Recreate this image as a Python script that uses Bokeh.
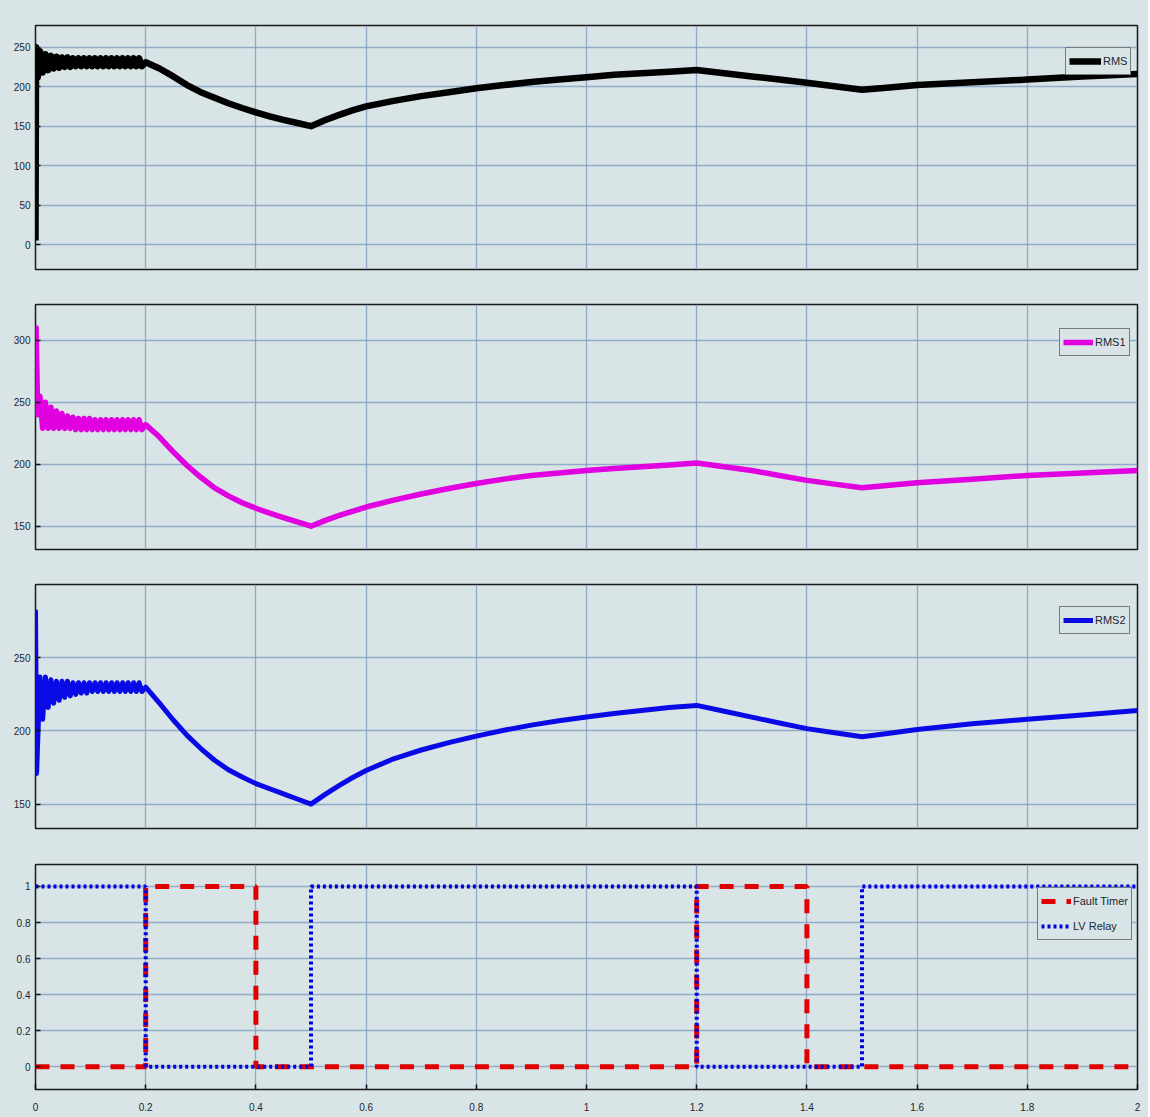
from bokeh.plotting import figure
from bokeh.models import Range1d, FixedTicker, Legend, LegendItem
from bokeh.layouts import column
from bokeh.embed import file_html
from bokeh.resources import INLINE

# ---------------- data ----------------
X_TICKS = [0, 0.2, 0.4, 0.6, 0.8, 1.0, 1.2, 1.4, 1.6, 1.8, 2.0]
X_LABELS = ["0", "0.2", "0.4", "0.6", "0.8", "1", "1.2", "1.4", "1.6", "1.8", "2"]

Y1_TICKS = [0, 50, 100, 150, 200, 250]
Y2_TICKS = [150, 200, 250, 300]
Y3_TICKS = [150, 200, 250]
Y4_TICKS = [0, 0.2, 0.4, 0.6, 0.8, 1.0]
Y4_LABELS = ["0", "0.2", "0.4", "0.6", "0.8", "1"]

# shared time grids
T_RIPPLE = [0.008, 0.013, 0.018, 0.023, 0.028, 0.033, 0.038, 0.043, 0.048, 0.053,
            0.058, 0.063, 0.068, 0.073, 0.078, 0.083, 0.088, 0.093, 0.098, 0.103,
            0.108, 0.113, 0.118, 0.123, 0.128, 0.133, 0.138, 0.143, 0.148, 0.153,
            0.158, 0.163, 0.168, 0.173, 0.178, 0.183, 0.188, 0.193]
T_MAIN = [0.2, 0.225, 0.25, 0.275, 0.3, 0.325, 0.35, 0.375, 0.4, 0.425, 0.45, 0.475,
          0.5, 0.525, 0.55, 0.575, 0.6,
          0.65, 0.7, 0.75, 0.8, 0.85, 0.9, 0.95, 1.0, 1.05, 1.1, 1.15, 1.2, 1.25,
          1.3, 1.35, 1.4, 1.45, 1.5, 1.55, 1.6,
          1.7, 1.8, 1.9, 2.0]

# RMS (black)
RMS_T_START = [0.0, 0.001, 0.004]
RMS_V_START = [5, 250, 212]
RMS_V_RIPPLE = [245, 218, 241, 221, 239, 223, 238, 224, 237, 225,
                237, 225, 236, 226, 236, 226, 236, 226, 236, 226,
                236, 226, 236, 226, 236, 226, 236, 226, 236, 226,
                236, 226, 236, 226, 236, 226, 236, 226]
RMS_V_MAIN = [231, 223, 213, 202, 193, 186, 179, 173, 167.5, 162.5, 158, 154,
              150, 157.5, 164, 170, 175,
              182, 188, 193, 198, 202, 206, 209, 212, 215, 217, 219, 221, 217,
              213, 209, 205, 200.5, 196, 199, 202,
              205.5, 209, 213, 216]

# RMS1 (magenta)
RMS1_T_START = [0.0, 0.001, 0.004]
RMS1_V_START = [300, 310, 240]
RMS1_V_RIPPLE = [255, 229, 250, 229, 246, 229, 243, 229, 241, 229,
                 239, 229, 238, 228, 237, 228, 237, 228, 237, 228,
                 236, 228, 236, 228, 236, 228, 236, 228, 236, 228,
                 236, 228, 236, 228, 236, 228, 236, 228]
RMS1_V_MAIN = [232, 222, 210, 199, 189.5, 181, 174.5, 169, 164.5, 160.5, 157, 153.5,
               150, 154.5, 158.5, 162, 165.5,
               171, 176, 180.5, 184.5, 188, 191, 193, 195, 196.5, 198, 199.5, 201, 198,
               195, 191, 187, 184, 181, 183, 185,
               188, 191, 193, 195]

# RMS2 (blue)
RMS2_T_START = [0.0, 0.002]
RMS2_V_START = [283, 171]
RMS2_V_RIPPLE = [237, 208, 237, 216, 235, 219, 234, 221, 234, 223,
                 234, 224, 233, 225, 233, 226, 233, 226, 233, 227,
                 233, 227, 233, 227, 233, 227, 233, 227, 233, 227,
                 233, 227, 233, 227, 233, 227, 233, 227]
RMS2_V_MAIN = [230, 219, 207.5, 197, 188, 180, 173.5, 168.5, 164, 160.5, 157, 153.5,
               150, 156.5, 162.5, 168, 173,
               181, 187, 192, 196.5, 200.5, 204, 207, 209.5, 212, 214, 216, 217.5, 213.5,
               209.5, 205.5, 201.6, 198.8, 196, 198.5, 201,
               205, 208, 211, 214]

# Fault timer / LV relay steps
FAULT_T = [0, 0.2, 0.2, 0.4, 0.4, 1.2, 1.2, 1.4, 1.4, 2.0]
FAULT_V = [0, 0, 1, 1, 0, 0, 1, 1, 0, 0]
RELAY_T = [0, 0.2, 0.2, 0.5, 0.5, 1.2, 1.2, 1.5, 1.5, 2.0]
RELAY_V = [1, 1, 0, 0, 1, 1, 0, 0, 1, 1]

# ---------------- style ----------------
BG = "#d8e4e5"
GRID = "#7b98bf"
FONT = "Liberation Sans"
TICK_COLOR = "#1b2633"

xr = Range1d(0, 2)


def make_fig(height, top, bottom, yrange, yticks, ylabels=None, show_x=False):
    p = figure(width=1148, height=height, x_range=xr, y_range=Range1d(*yrange),
               output_backend="svg", toolbar_location=None,
               min_border_left=35, min_border_right=11,
               min_border_top=top, min_border_bottom=bottom,
               background_fill_color=BG, border_fill_color=BG)
    p.outline_line_color = "#1a1a1a"
    p.outline_line_width = 1.5
    p.xaxis.ticker = FixedTicker(ticks=X_TICKS)
    p.yaxis.ticker = FixedTicker(ticks=yticks)
    p.xgrid.ticker = FixedTicker(ticks=X_TICKS)
    p.ygrid.ticker = FixedTicker(ticks=yticks)
    for g in (p.xgrid, p.ygrid):
        g.grid_line_color = GRID
        g.grid_line_width = 1.3
        g.grid_line_alpha = 0.75
    for ax in (p.xaxis, p.yaxis):
        ax.axis_line_color = None
        ax.major_tick_in = 5
        ax.major_tick_out = 0
        ax.major_tick_line_color = "#111111"
        ax.major_tick_line_width = 1.5
        ax.minor_tick_line_color = None
        ax.major_label_text_font = FONT
        ax.major_label_text_font_size = "10px"
        ax.major_label_text_color = TICK_COLOR
    p.yaxis.major_label_standoff = 5
    if ylabels is not None:
        p.yaxis.major_label_overrides = {t: l for t, l in zip(yticks, ylabels)}
    if show_x:
        p.xaxis.major_label_overrides = {t: l for t, l in zip(X_TICKS, X_LABELS)}
        p.xaxis.major_label_standoff = 13
    else:
        p.xaxis.visible = False
    return p


def style_legend(leg, glyph_w):
    leg.border_line_color = "#111111"
    leg.border_line_width = 1.5
    leg.background_fill_color = BG
    leg.background_fill_alpha = 1.0
    leg.label_text_font = FONT
    leg.label_text_font_size = "11px"
    leg.label_text_color = TICK_COLOR
    leg.glyph_width = glyph_w
    leg.glyph_height = 20
    leg.label_standoff = 2
    leg.padding = 3
    leg.spacing = 5
    leg.margin = 0
    leg.label_height = 18


# Panel 1 (RMS)
p1 = make_fig(286, 25, 17, (-31.6, 277.5), Y1_TICKS)
r1 = p1.line(RMS_T_START + T_RIPPLE + T_MAIN, RMS_V_START + RMS_V_RIPPLE + RMS_V_MAIN,
             line_color="#000000", line_width=6.5, line_join="round")
leg1 = Legend(items=[LegendItem(label="RMS", renderers=[r1])], location=(1030, 194))
style_legend(leg1, 32)
p1.add_layout(leg1)

# Panel 2 (RMS1)
p2 = make_fig(280, 18, 17, (131.2, 329.0), Y2_TICKS)
r2 = p2.line(RMS1_T_START + T_RIPPLE + T_MAIN, RMS1_V_START + RMS1_V_RIPPLE + RMS1_V_MAIN,
             line_color="#e000e0", line_width=5.5, line_join="round")
leg2 = Legend(items=[LegendItem(label="RMS1", renderers=[r2])], location=(1024, 193))
style_legend(leg2, 30)
p2.add_layout(leg2)

# Panel 3 (RMS2)
p3 = make_fig(280, 18, 18, (133.3, 300.2), Y3_TICKS)
r3 = p3.line(RMS2_T_START + T_RIPPLE + T_MAIN, RMS2_V_START + RMS2_V_RIPPLE + RMS2_V_MAIN,
             line_color="#0a0ae6", line_width=5, line_join="round")
leg3 = Legend(items=[LegendItem(label="RMS2", renderers=[r3])], location=(1024, 194))
style_legend(leg3, 30)
p3.add_layout(leg3)

# Panel 4 (Fault Timer / LV Relay)
p4 = make_fig(271, 18, 28, (-0.126, 1.122), Y4_TICKS, Y4_LABELS, show_x=True)
r4a = p4.line(FAULT_T, FAULT_V, line_color="#e00000", line_width=5, line_dash="14 11")
r4b = p4.line(RELAY_T, RELAY_V, line_color="#0000e0", line_width=4, line_dash="3 3")
leg4 = Legend(items=[LegendItem(label="Fault Timer", renderers=[r4a]),
                     LegendItem(label="LV Relay", renderers=[r4b])],
              location=(1002, 149))
style_legend(leg4, 30)
p4.add_layout(leg4)

layout = column(p1, p2, p3, p4, spacing=0, styles={"background-color": BG})

open("out.html", "w").write(file_html(layout, INLINE))
